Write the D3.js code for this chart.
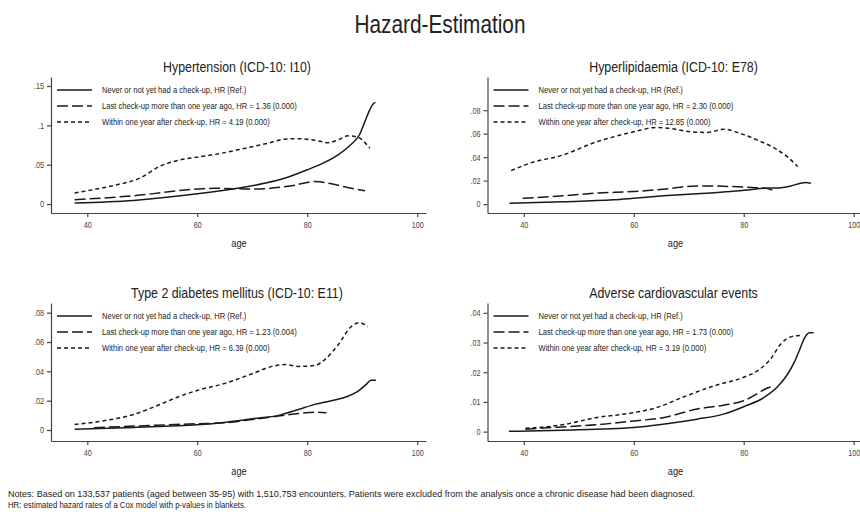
<!DOCTYPE html>
<html lang="en">
<head>
    <meta charset="UTF-8">
    <title>Hazard-Estimation</title>
    <script src="https://d3js.org/d3.v7.min.js"></script>
    <style>
        body {
            margin: 0;
            background: #fff;
        }
        svg text {
            font-family: "Liberation Sans", Arial, sans-serif;
            fill: #222;
        }
        .axis path, .axis line {
            stroke: #444;
            stroke-width: 1.2;
        }
        .axis text {
            font-size: 9px;
            fill: #444;
        }
        .curve {
            fill: none;
            stroke: #1a1a1a;
            stroke-width: 1.5;
        }
    </style>
</head>
<body>
    <svg width="860" height="518"></svg>
    <script>
        // ---- data ----
        const ageTicks = [40, 60, 80, 100];

        const panelTitles = [
            "Hypertension (ICD-10: I10)",
            "Hyperlipidaemia (ICD-10: E78)",
            "Type 2 diabetes mellitus (ICD-10: E11)",
            "Adverse cardiovascular events"
        ];

        const hrLast = ["1.36 (0.000)", "2.30 (0.000)", "1.23 (0.004)", "1.73 (0.000)"];
        const hrWithin = ["4.19 (0.000)", "12.85 (0.000)", "6.39 (0.000)", "3.19 (0.000)"];

        const yTicksHyp = [0, 0.05, 0.1, 0.15];
        const yLabelsHyp = ["0", ".05", ".1", ".15"];
        const yTicksLip = [0, 0.02, 0.04, 0.06, 0.08];
        const yLabelsLip = ["0", ".02", ".04", ".06", ".08"];
        const yTicksDia = [0, 0.02, 0.04, 0.06, 0.08];
        const yLabelsDia = ["0", ".02", ".04", ".06", ".08"];
        const yTicksCvd = [0, 0.01, 0.02, 0.03, 0.04];
        const yLabelsCvd = ["0", ".01", ".02", ".03", ".04"];

        // [age, hazard]
        const hypNever = [[37.7,.0013],[48.4,.0046],[60,.013],[66.4,.019],[72.4,.0266],[75.4,.0317],[80,.0435],[82.6,.051],[85.6,.0625],[88,.076],[89.5,.088],[90.5,.105],[91.4,.12],[92.1,.128],[92.4,.129]];
        const hypLast = [[37.7,.0055],[48.4,.0105],[60,.019],[63.4,.020],[70,.019],[77.2,.0232],[81.4,.0287],[84.4,.0258],[88,.020],[90.5,.017]];
        const hypWithin = [[37.7,.014],[42.4,.020],[45.4,.0245],[49.6,.033],[53.2,.048],[56.8,.056],[60,.0596],[64,.064],[68.8,.071],[72.4,.0765],[76,.0824],[78.4,.083],[81.4,.081],[83.8,.078],[85.6,.0815],[87.4,.0866],[89.2,.085],[90.5,.078],[91.4,.071]];

        const lipNever = [[37.4,.0008],[47.1,.002],[56.3,.0037],[60,.005],[65.4,.007],[71.5,.0088],[77.6,.0107],[80.7,.012],[83.7,.0136],[86.8,.014],[88.6,.0155],[90.4,.0178],[91.3,.0184],[92.2,.0178]];
        const lipLast = [[39.8,.005],[47.1,.007],[53.2,.0093],[60,.0107],[65.4,.0127],[71.5,.0155],[77.6,.015],[80.7,.0144],[83.7,.0136],[85.2,.012]];
        const lipWithin = [[37.7,.0285],[41,.0347],[47.1,.0418],[53.2,.053],[56.9,.058],[60,.0616],[64.2,.0653],[66.6,.0644],[70.3,.0616],[73.4,.061],[76.4,.0638],[79.5,.060],[82.5,.0545],[86.2,.046],[88,.040],[89.8,.032]];

        const diaNever = [[37.7,.0005],[48.4,.0018],[60,.0036],[65.2,.0054],[70,.0077],[74.8,.010],[78.4,.014],[81.4,.0175],[84.4,.020],[87.4,.023],[89.2,.0264],[90.7,.031],[91.6,.034],[92.5,.034]];
        const diaLast = [[41.2,.0016],[48.4,.0027],[60,.0043],[65.2,.005],[70,.0072],[74.8,.0095],[78.4,.0113],[81.4,.0122],[83.5,.0118]];
        const diaWithin = [[37.7,.0038],[42.4,.006],[48.4,.0106],[53.2,.0174],[56.8,.023],[60,.027],[65.2,.032],[70,.0384],[73.6,.0434],[76,.0446],[78.4,.0434],[81.4,.044],[83.2,.048],[85.6,.058],[88,.0705],[89.5,.0732],[91,.0705]];

        const cvdNever = [[37.3,.0001],[47,.0005],[60,.0014],[65.3,.0025],[71.5,.0042],[76.3,.0059],[80,.0084],[83.7,.0115],[86.1,.015],[88,.0194],[89.2,.0234],[90.1,.0273],[91,.0313],[91.9,.0333],[92.7,.0333]];
        const cvdLast = [[40.3,.0008],[47,.0016],[53.1,.0023],[60,.0036],[65.3,.0047],[71.5,.0076],[76.3,.0089],[80,.0104],[82.4,.0127],[84.3,.0147],[85.5,.0153]];
        const cvdWithin = [[40.3,.0011],[47,.0023],[53.1,.0047],[60,.0064],[64.2,.0081],[68.8,.0115],[75.1,.0157],[80,.0183],[83,.0211],[84.9,.0245],[86.7,.0294],[88.6,.0319],[90.4,.0324]];

        // ---- layout ----
        const svg = d3.select("svg");
        const ageDomain = [33.4, 101.6];
        const dashLong = "11,4";
        const dashShort = "4,3";
        const squeeze = 0.8; // the original uses a condensed face

        // squash text horizontally around its own x so anchors stay put
        function narrow(sel) {
            sel.each(function() {
                const t = d3.select(this);
                const x = +t.attr("x") || 0;
                t.attr("transform", `translate(${x},0) scale(${squeeze},1) translate(${-x},0)`);
            });
        }

        const panels = [
            {title: panelTitles[0], left: 51,    top: 77,  bottom: 213, yDomain: [-0.0114, 0.1614],  yTicks: yTicksHyp, yLabels: yLabelsHyp, series: [hypNever, hypLast, hypWithin], hr: 0},
            {title: panelTitles[1], left: 487.5, top: 77,  bottom: 213, yDomain: [-0.0076, 0.1083],  yTicks: yTicksLip, yLabels: yLabelsLip, series: [lipNever, lipLast, lipWithin], hr: 1},
            {title: panelTitles[2], left: 51,    top: 303, bottom: 441, yDomain: [-0.00746, 0.0866], yTicks: yTicksDia, yLabels: yLabelsDia, series: [diaNever, diaLast, diaWithin], hr: 2},
            {title: panelTitles[3], left: 487.5, top: 303, bottom: 441, yDomain: [-0.00315, 0.0433], yTicks: yTicksCvd, yLabels: yLabelsCvd, series: [cvdNever, cvdLast, cvdWithin], hr: 3}
        ];
        const panelWidth = 375;

        // Main title
        svg.append("text")
           .attr("x", 440)
           .attr("y", 33)
           .attr("text-anchor", "middle")
           .style("font-size", "26px")
           .text("Hazard-Estimation")
           .call(narrow);

        panels.forEach(p => {
            const g = svg.append("g");

            const x = d3.scaleLinear().domain(ageDomain).range([p.left, p.left + panelWidth]);
            const y = d3.scaleLinear().domain(p.yDomain).range([p.bottom, p.top]);

            // Axes
            g.append("g")
             .attr("class", "axis")
             .attr("transform", `translate(0,${p.bottom})`)
             .call(d3.axisBottom(x).tickValues(ageTicks).tickSize(4).tickSizeOuter(0).tickPadding(5))
             .selectAll("text").call(narrow);

            g.append("g")
             .attr("class", "axis")
             .attr("transform", `translate(${p.left},0)`)
             .call(d3.axisLeft(y).tickValues(p.yTicks).tickFormat((d, i) => p.yLabels[i])
                   .tickSize(4).tickSizeOuter(0).tickPadding(3))
             .selectAll("text").call(narrow);

            // Panel title
            g.append("text")
             .attr("x", p.left + 186)
             .attr("y", p.top - 5)
             .attr("text-anchor", "middle")
             .style("font-size", "15.5px")
             .text(p.title)
             .call(narrow);

            // X axis label
            g.append("text")
             .attr("x", p.left + 188)
             .attr("y", p.bottom + 34)
             .attr("text-anchor", "middle")
             .style("font-size", "11.5px")
             .text("age")
             .call(narrow);

            // Curves
            const line = d3.line()
                           .x(d => x(d[0]))
                           .y(d => y(d[1]))
                           .curve(d3.curveMonotoneX);
            const dashes = [null, dashLong, dashShort];

            p.series.forEach((s, i) => {
                g.append("path")
                 .datum(s)
                 .attr("class", "curve")
                 .attr("d", line)
                 .attr("stroke-dasharray", dashes[i]);
            });

            // Legend
            const legendText = [
                "Never or not yet had a check-up, HR (Ref.)",
                `Last check-up more than one year ago, HR = ${hrLast[p.hr]}`,
                `Within one year after check-up, HR = ${hrWithin[p.hr]}`
            ];
            legendText.forEach((t, i) => {
                const ly = p.top + 13 + i * 16;
                g.append("line")
                 .attr("class", "curve")
                 .attr("x1", p.left + 6)
                 .attr("x2", p.left + 41)
                 .attr("y1", ly)
                 .attr("y2", ly)
                 .attr("stroke-dasharray", dashes[i]);
                g.append("text")
                 .attr("x", p.left + 51)
                 .attr("y", ly + 3.5)
                 .style("font-size", "9.5px")
                 .text(t)
                 .call(narrow);
            });
        });

        // Notes
        svg.append("text")
           .attr("x", 8)
           .attr("y", 497)
           .style("font-size", "8.8px")
           .attr("textLength", 687)
           .attr("lengthAdjust", "spacingAndGlyphs")
           .text("Notes: Based on 133,537 patients (aged between 35-95) with 1,510,753 encounters. Patients were excluded from the analysis once a chronic disease had been diagnosed.");
        svg.append("text")
           .attr("x", 8)
           .attr("y", 508)
           .style("font-size", "8.8px")
           .attr("textLength", 238)
           .attr("lengthAdjust", "spacingAndGlyphs")
           .text("HR: estimated hazard rates of a Cox model with p-values in blankets.");
    </script>
</body>
</html>
